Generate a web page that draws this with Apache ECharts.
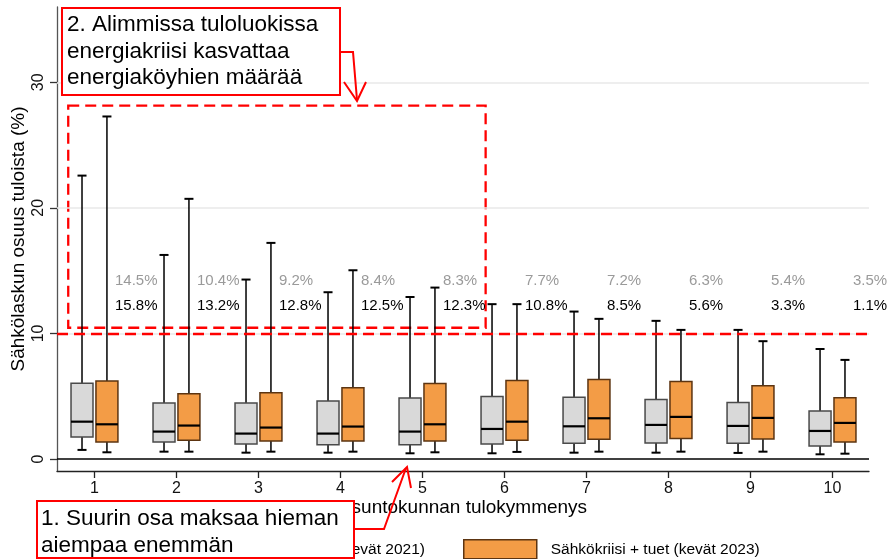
<!DOCTYPE html>
<html>
<head>
<meta charset="utf-8">
<script src="https://cdn.jsdelivr.net/npm/echarts@6/dist/echarts.min.js"></script>
<style>
  html, body { margin: 0; padding: 0; background: #fff; }
  #chart { width: 890px; height: 559px; }
</style>
</head>
<body>
<div id="chart"></div>
<script>
// tulokymmenykset
const deciles = [1, 2, 3, 4, 5, 6, 7, 8, 9, 10]
const yTicks = [0, 10, 20, 30]

// kevät 2021 (harmaa)
const low2021 = [0.72, 0.58, 0.50, 0.50, 0.45, 0.45, 0.50, 0.50, 0.48, 0.37]
const q1_2021 = [1.75, 1.35, 1.20, 1.14, 1.14, 1.20, 1.25, 1.27, 1.25, 1.04]
const med2021 = [2.97, 2.18, 2.02, 2.02, 2.18, 2.39, 2.60, 2.71, 2.63, 2.23]
const q3_2021 = [6.03, 4.46, 4.46, 4.62, 4.86, 4.97, 4.91, 4.73, 4.49, 3.82]
const high2021 = [22.57, 16.25, 14.29, 13.28, 12.90, 12.33, 11.74, 11.00, 10.28, 8.76]

// Sähkökriisi + tuet, kevät 2023 (oranssi)
const low2023 = [0.53, 0.58, 0.58, 0.58, 0.53, 0.56, 0.58, 0.58, 0.58, 0.42]
const q1_2023 = [1.35, 1.49, 1.43, 1.43, 1.43, 1.49, 1.57, 1.62, 1.59, 1.35]
const med2023 = [2.76, 2.66, 2.50, 2.58, 2.76, 2.97, 3.24, 3.35, 3.27, 2.87]
const q3_2023 = [6.21, 5.20, 5.28, 5.68, 6.00, 6.24, 6.32, 6.16, 5.84, 4.88]
const high2023 = [27.28, 20.72, 17.21, 15.03, 13.65, 12.33, 11.16, 10.28, 9.38, 7.89]

// osuus kotitalouksista, joilla sähkölasku yli 10 % tuloista
const share2021 = [14.5, 10.4, 9.2, 8.4, 8.3, 7.7, 7.2, 6.3, 5.4, 3.5]
const share2023 = [15.8, 13.2, 12.8, 12.5, 12.3, 10.8, 8.5, 5.6, 3.3, 1.1]

const NAME_2021 = 'Ennen kriisiä (kevät 2021)'
const NAME_2023 = 'Sähkökriisi + tuet (kevät 2023)'
const FONT = 'Liberation Sans, Arial, sans-serif'

const BOX_W = 0.268
const CAP_W = 0.11
const SHIFT = 0.152

function boxData(lo, q1, med, q3, hi) {
  return deciles.map((d, i) => [d, lo[i], q1[i], med[i], q3[i], hi[i]])
}

function boxRender(shift, fill, stroke) {
  return (params, api) => {
    const x = api.value(0)
    const cx = api.coord([x + shift, 0])[0]
    const bw = api.size([BOX_W, 0])[0]
    const cw = api.size([CAP_W, 0])[0]
    const y = (k) => api.coord([x, api.value(k)])[1]
    const yLo = y(1), yQ1 = y(2), yMed = y(3), yQ3 = y(4), yHi = y(5)
    const ln = (x1, y1, x2, y2, w) => ({
      type: 'line',
      shape: { x1, y1, x2, y2 },
      style: { stroke: '#000', lineWidth: w },
    })
    return {
      type: 'group',
      children: [
        ln(cx, yHi, cx, yQ3, 1.5),
        ln(cx, yLo, cx, yQ1, 1.5),
        ln(cx - cw / 2, yHi, cx + cw / 2, yHi, 2),
        ln(cx - cw / 2, yLo, cx + cw / 2, yLo, 2),
        {
          type: 'rect',
          shape: { x: cx - bw / 2, y: yQ3, width: bw, height: yQ1 - yQ3 },
          style: { fill, stroke, lineWidth: 1.5 },
        },
        ln(cx - bw / 2, yMed, cx + bw / 2, yMed, 2.2),
      ],
    }
  }
}

function shareRender(params, api) {
  const x = api.value(0)
  const p1 = api.coord([x + 0.25, 14.2])
  const p2 = api.coord([x + 0.25, 12.2])
  const txt = (p, v, color) => ({
    type: 'text',
    x: p[0],
    y: p[1],
    style: {
      text: v.toFixed(1) + '%',
      fill: color,
      fontSize: 15,
      fontFamily: FONT,
      align: 'left',
      verticalAlign: 'middle',
    },
  })
  return {
    type: 'group',
    children: [txt(p1, api.value(1), '#9a9a9a'), txt(p2, api.value(2), '#000')],
  }
}

const red = '#ff0000'

const option = {
  animation: false,
  textStyle: { fontFamily: FONT },
  grid: { left: 57, right: 21, top: 7, bottom: 88, outerBoundsMode: 'none', containLabel: false },
  legend: [
    {
      data: [{ name: NAME_2021, icon: 'rect', itemStyle: { color: '#d9d9d9', borderColor: '#4a4a4a', borderWidth: 1.5 } }],
      right: 465,
      top: 539,
      padding: 0,
      itemWidth: 73,
      itemHeight: 19,
      selectedMode: false,
      textStyle: { fontSize: 15.5, color: '#000', padding: [0, 0, 0, 9] },
    },
    {
      data: [{ name: NAME_2023, icon: 'rect', itemStyle: { color: '#f39c46', borderColor: '#5c3411', borderWidth: 1.5 } }],
      left: 463,
      top: 539,
      padding: 0,
      itemWidth: 73,
      itemHeight: 19,
      selectedMode: false,
      textStyle: { fontSize: 15.5, color: '#000', padding: [0, 0, 0, 9] },
    },
  ],
  xAxis: {
    type: 'value',
    min: 0.543,
    max: 10.445,
    name: 'Asuntokunnan tulokymmenys',
    nameLocation: 'middle',
    nameGap: 27,
    nameMoveOverlap: false,
    nameTextStyle: { fontSize: 19, color: '#000' },
    axisLine: { show: true, onZero: false, lineStyle: { color: '#222', width: 1.3 } },
    axisTick: { show: true, customValues: deciles, length: 7, lineStyle: { color: '#222', width: 1.3 } },
    axisLabel: { customValues: deciles, margin: 10, fontSize: 16, color: '#111' },
    splitLine: { show: false },
  },
  yAxis: {
    type: 'value',
    min: -0.96,
    max: 36,
    name: 'Sähkölaskun osuus tuloista (%)',
    nameLocation: 'middle',
    nameGap: 29,
    nameMoveOverlap: false,
    nameTextStyle: { fontSize: 19, color: '#000' },
    axisLine: { show: true, onZero: false, lineStyle: { color: '#555', width: 1.3 } },
    axisTick: { show: true, customValues: yTicks, length: 7, lineStyle: { color: '#333', width: 1.3 } },
    axisLabel: { customValues: yTicks, rotate: 90, margin: 10, fontSize: 16, color: '#111' },
    splitLine: { show: false },
  },
  series: [
    {
      name: 'grid',
      type: 'line',
      data: [],
      silent: true,
      markLine: {
        silent: true,
        symbol: 'none',
        label: { show: false },
        lineStyle: { color: '#e8e8e8', width: 1.5, type: 'solid' },
        data: [{ yAxis: 10 }, { yAxis: 20 }, { yAxis: 30 }],
        z: 1,
      },
    },
    {
      name: NAME_2021,
      type: 'custom',
      renderItem: boxRender(-SHIFT, '#d9d9d9', '#4a4a4a'),
      data: boxData(low2021, q1_2021, med2021, q3_2021, high2021),
      encode: { x: 0, y: [1, 2, 3, 4, 5] },
      itemStyle: { color: '#d9d9d9' },
      z: 3,
    },
    {
      name: NAME_2023,
      type: 'custom',
      renderItem: boxRender(SHIFT, '#f39c46', '#5c3411'),
      data: boxData(low2023, q1_2023, med2023, q3_2023, high2023),
      encode: { x: 0, y: [1, 2, 3, 4, 5] },
      itemStyle: { color: '#f39c46' },
      z: 3,
    },
    {
      name: 'shares',
      type: 'custom',
      renderItem: shareRender,
      data: deciles.map((d, i) => [d, share2021[i], share2023[i]]),
      encode: { x: 0, y: 1 },
      silent: true,
      z: 4,
    },
    {
      name: 'marks',
      type: 'line',
      data: [],
      silent: true,
      z: 5,
      markLine: {
        silent: true,
        symbol: 'none',
        label: { show: false },
        data: [
          { yAxis: 0, lineStyle: { color: '#000', width: 1.6, type: 'solid' } },
          { yAxis: 10, lineStyle: { color: red, width: 2.3, type: [11, 6] } },
        ],
      },
      markArea: {
        silent: true,
        itemStyle: { color: 'transparent', borderColor: red, borderWidth: 2.3, borderType: [11, 6] },
        data: [[{ coord: [0.68, 28.15] }, { coord: [5.77, 10.45] }]],
      },
    },
  ],
  graphic: [
    {
      type: 'rect',
      shape: { x: 62, y: 8, width: 278, height: 87 },
      style: { fill: '#fff', stroke: red, lineWidth: 2 },
      z: 100,
    },
    {
      type: 'text',
      x: 67,
      y: 12,
      style: {
        text: '2. Alimmissa tuloluokissa\nenergiakriisi kasvattaa\nenergiaköyhien määrää',
        fontSize: 22.5,
        lineHeight: 26.5,
        fontFamily: FONT,
        fill: '#000',
      },
      z: 101,
    },
    {
      type: 'polyline',
      shape: { points: [[340, 52], [353, 52], [357, 100]] },
      style: { stroke: red, lineWidth: 2, fill: null },
      z: 100,
    },
    {
      type: 'polyline',
      shape: { points: [[344, 82], [357, 101], [366, 82]] },
      style: { stroke: red, lineWidth: 2, fill: null },
      z: 100,
    },
    {
      type: 'rect',
      shape: { x: 37, y: 501, width: 317, height: 57 },
      style: { fill: '#fff', stroke: red, lineWidth: 2 },
      z: 100,
    },
    {
      type: 'text',
      x: 41,
      y: 505,
      style: {
        text: '1. Suurin osa maksaa hieman\naiempaa enemmän',
        fontSize: 22.5,
        lineHeight: 27,
        fontFamily: FONT,
        fill: '#000',
      },
      z: 101,
    },
    {
      type: 'polyline',
      shape: { points: [[354, 529], [384, 529], [406, 468]] },
      style: { stroke: red, lineWidth: 2, fill: null },
      z: 100,
    },
    {
      type: 'polyline',
      shape: { points: [[392, 482], [407, 467], [411, 488]] },
      style: { stroke: red, lineWidth: 2, fill: null },
      z: 100,
    },
  ],
}

const chart = echarts.init(document.getElementById('chart'))
chart.setOption(option)
</script>
</body>
</html>
